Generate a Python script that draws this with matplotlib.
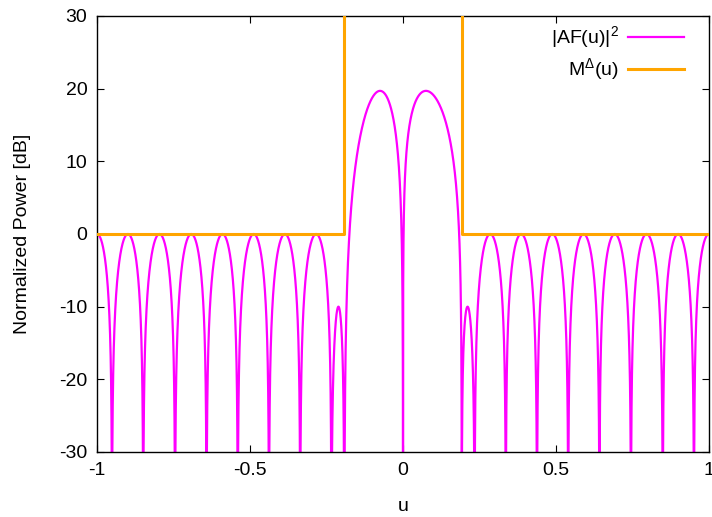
import numpy as np
import matplotlib
matplotlib.use("Agg")
import matplotlib.pyplot as plt
from matplotlib.lines import Line2D

plt.rcParams['font.family'] = ['Liberation Sans', 'DejaVu Sans']
plt.rcParams['mathtext.fontset'] = 'custom'
plt.rcParams['mathtext.rm'] = 'Liberation Sans'
plt.rcParams['mathtext.it'] = 'Liberation Sans'
plt.rcParams['mathtext.sf'] = 'Liberation Sans'
plt.rcParams['axes.unicode_minus'] = False

# ---- data ----
# lobes of |AF(u)|^2: bounding nulls, peak position, peak level (dB)
lobe_start = [-1.053, -0.951, -0.849, -0.745, -0.642, -0.540, -0.438, -0.336, -0.234, -0.192,
              0.000, 0.192, 0.234, 0.336, 0.438, 0.540, 0.642, 0.745, 0.849, 0.951]
lobe_end = [-0.951, -0.849, -0.745, -0.642, -0.540, -0.438, -0.336, -0.234, -0.192, 0.000,
            0.192, 0.234, 0.336, 0.438, 0.540, 0.642, 0.745, 0.849, 0.951, 1.053]
lobe_peak_u = [-1.000, -0.899, -0.796, -0.692, -0.590, -0.488, -0.386, -0.284, -0.211, -0.075,
               0.075, 0.211, 0.285, 0.386, 0.488, 0.590, 0.692, 0.796, 0.899, 1.000]
lobe_peak_db = [0, 0, 0, 0, 0, 0, 0, 0, -10, 19.7,
                19.7, -10, 0, 0, 0, 0, 0, 0, 0, 0]

# mask M^Delta(u)
mask_u = [-1.0, -0.192, -0.192, 0.192, 0.192, 1.0]
mask_db = [0, 0, 60, 60, 0, 0]

xticks = [-1, -0.5, 0, 0.5, 1]
xticklabels = ['-1', '-0.5', '0', '0.5', '1']
yticks = [-30, -20, -10, 0, 10, 20, 30]
legend_labels = [r'|AF(u)|$^2$', r'M$^{\Delta}$(u)']

# ---- build the pattern curve lobe by lobe ----
us, ps = [], []
for a, b, pu, pdb in zip(lobe_start, lobe_end, lobe_peak_u, lobe_peak_db):
    t = np.linspace(0, 1, 600)
    tp = (pu - a) / (b - a)
    k = np.log(0.5) / np.log(tp)
    s = np.abs(np.sin(np.pi * t ** k))
    with np.errstate(divide='ignore'):
        y = pdb + 20 * np.log10(s)
    y = np.clip(y, -200, None)
    u = a + t * (b - a)
    m = (u >= -1.0) & (u <= 1.0)
    us.append(u[m]); ps.append(y[m])
u_all = np.concatenate(us)
p_all = np.concatenate(ps)

fig = plt.figure(figsize=(7.12, 5.17), dpi=100)
ax = fig.add_axes([97/712, 1-452/517, 612/712, 436/517])

c_af = '#FF00FF'
c_mask = '#FFA500'
ax.plot(u_all, p_all, color=c_af, lw=1.6, zorder=2)
ax.plot(mask_u, mask_db, color=c_mask, lw=2.2, zorder=3)

ax.set_xlim(-1, 1)
ax.set_ylim(-30, 30)
ax.set_xticks(xticks)
ax.set_xticklabels(xticklabels)
ax.set_yticks(yticks)
ax.tick_params(direction='in', length=5, width=0.8, top=True, right=True,
               labelsize=14, pad=7, colors='black')
for sp in ax.spines.values():
    sp.set_linewidth(1.0)
ax.set_xlabel('u', fontsize=14, labelpad=14)
ax.set_ylabel('Normalized Power [dB]', fontsize=14, labelpad=20)

# legend (gnuplot style: right-aligned text, then line sample)
tr = fig.transFigure
W, H = 712, 517
rows_y = [37, 69]
colors = [c_af, c_mask]
widths = [1.6, 2.2]
for yy, lab, col, lw in zip(rows_y, legend_labels, colors, widths):
    fig.add_artist(Line2D([628/W, 684/W], [1-yy/H, 1-yy/H], color=col, lw=lw, transform=tr))
    fig.text(619/W, 1-yy/H, lab, ha='right', va='center', fontsize=14)

fig.savefig('out.png', dpi=100)
